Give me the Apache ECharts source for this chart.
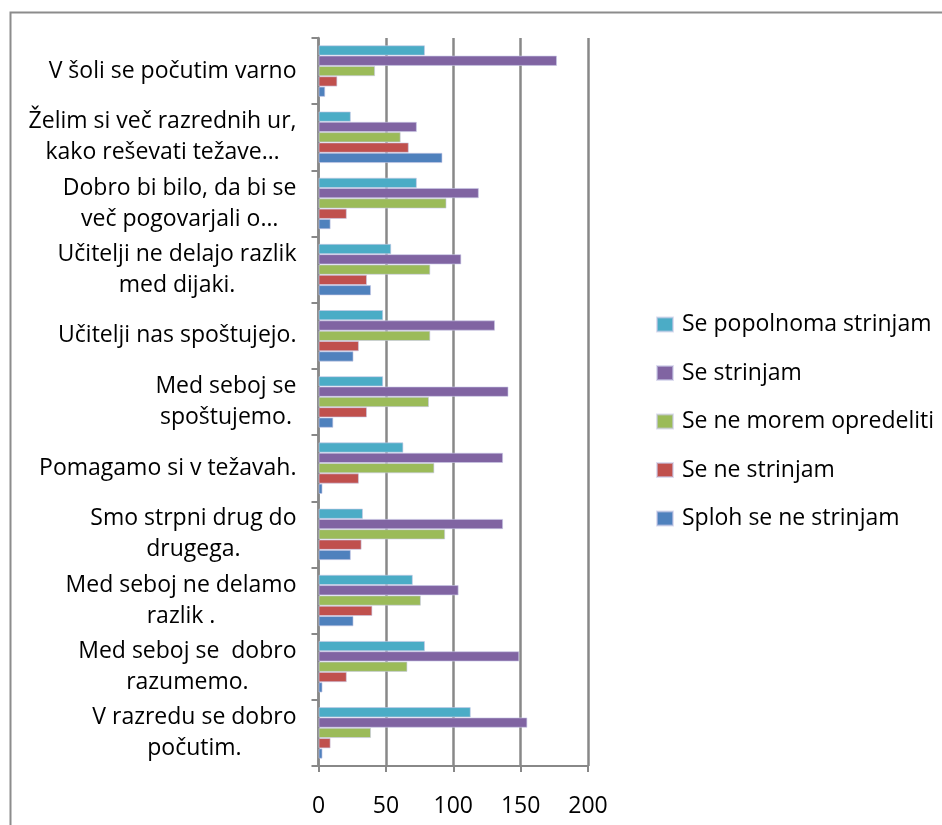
<!DOCTYPE html>
<html>
<head>
<meta charset="utf-8">
<script src="https://cdn.jsdelivr.net/npm/echarts@6/dist/echarts.min.js"></script>
<style>
html,body{margin:0;padding:0;background:#fff;}
#chart{width:942px;height:825px;}
</style>
</head>
<body>
<div id="chart"></div>
<script>
// Categories from bottom to top
var categories = [
  "V razredu se dobro\npočutim.",
  "Med seboj se  dobro\nrazumemo.",
  "Med seboj ne delamo\nrazlik .",
  "Smo strpni drug do\ndrugega.",
  "Pomagamo si v težavah.",
  "Med seboj se\nspoštujemo.",
  "Učitelji nas spoštujejo.",
  "Učitelji ne delajo razlik\nmed dijaki.",
  "Dobro bi bilo, da bi se\nveč pogovarjali o…",
  "Želim si več razrednih ur,\nkako reševati težave…",
  "V šoli se počutim varno"
];
var seriesNames = ["Se popolnoma strinjam", "Se strinjam", "Se ne morem opredeliti", "Se ne strinjam", "Sploh se ne strinjam"];
var sePopolnomaStrinjam = [113, 79, 70, 33, 63, 48, 48, 54, 73, 24, 79];
var seStrinjam          = [155, 149, 104, 137, 137, 141, 131, 106, 119, 73, 177];
var seNeMoremOpredeliti = [39, 66, 76, 94, 86, 82, 83, 83, 95, 61, 42];
var seNeStrinjam        = [9, 21, 40, 32, 30, 36, 30, 36, 21, 67, 14];
var splohSeNeStrinjam   = [3, 3, 26, 24, 3, 11, 26, 39, 9, 92, 5];
var xTicks = [0, 50, 100, 150, 200];

var colors = ["#4BACC6", "#8064A2", "#9BBB59", "#C0504D", "#4F81BD"];
var values = [sePopolnomaStrinjam, seStrinjam, seNeMoremOpredeliti, seNeStrinjam, splohSeNeStrinjam];
var FONT = "Open Sans";
var FS = 23;

var chart = echarts.init(document.getElementById('chart'));
var series = seriesNames.map(function (n, i) {
  return {
    name: n, type: 'bar', data: values[i],
    barGap: '0%', barCategoryGap: '22%',
    itemStyle: { color: colors[i], borderColor: 'rgba(200,200,230,0.6)', borderWidth: 1 },
    emphasis: { disabled: true }
  };
});

chart.setOption({
  animation: false,
  backgroundColor: '#fff',
  textStyle: { fontFamily: FONT },
  graphic: [{
    type: 'rect', left: 8, top: 10, silent: true,
    shape: { x: 0, y: 0, width: 1200, height: 1200 },
    style: { fill: 'none', stroke: '#8c8c8c', lineWidth: 2 }
  }],
  grid: { left: 318.5, right: 354, top: 38, bottom: 59, containLabel: false },
  legend: {
    orient: 'vertical', left: 651, top: 308,
    data: seriesNames,
    itemWidth: 16, itemHeight: 14, itemGap: 25.5,
    icon: 'rect',
    textStyle: { fontFamily: FONT, fontSize: FS, lineHeight: 20, color: '#000', padding: [0, 0, 0, 4] }
  },
  xAxis: {
    type: 'value', min: 0, max: 200, interval: 50,
    axisLine: { show: true, lineStyle: { color: '#888', width: 2 } },
    axisTick: { show: true, length: 6, lineStyle: { color: '#888', width: 2 } },
    splitLine: { show: true, lineStyle: { color: '#888', width: 2.5 } },
    axisLabel: {
      margin: 29, fontSize: FS, color: '#000', fontFamily: FONT,
      formatter: function (v) { return xTicks.indexOf(v) >= 0 ? String(v) : ''; }
    }
  },
  yAxis: {
    type: 'category', data: categories,
    axisLine: { show: true, lineStyle: { color: '#888', width: 2.5 } },
    axisTick: { show: true, length: 7, lineStyle: { color: '#888', width: 2 } },
    axisLabel: {
      margin: 22, color: '#000', fontSize: FS, lineHeight: 31, fontFamily: FONT,
      formatter: function (v) {
        return v.split('\n').map(function (l) { return '{c|' + l + '}'; }).join('\n');
      },
      rich: { c: { align: 'center', fontSize: FS, lineHeight: 31, fontFamily: FONT, color: '#000' } }
    }
  },
  series: series
});
</script>
</body>
</html>
